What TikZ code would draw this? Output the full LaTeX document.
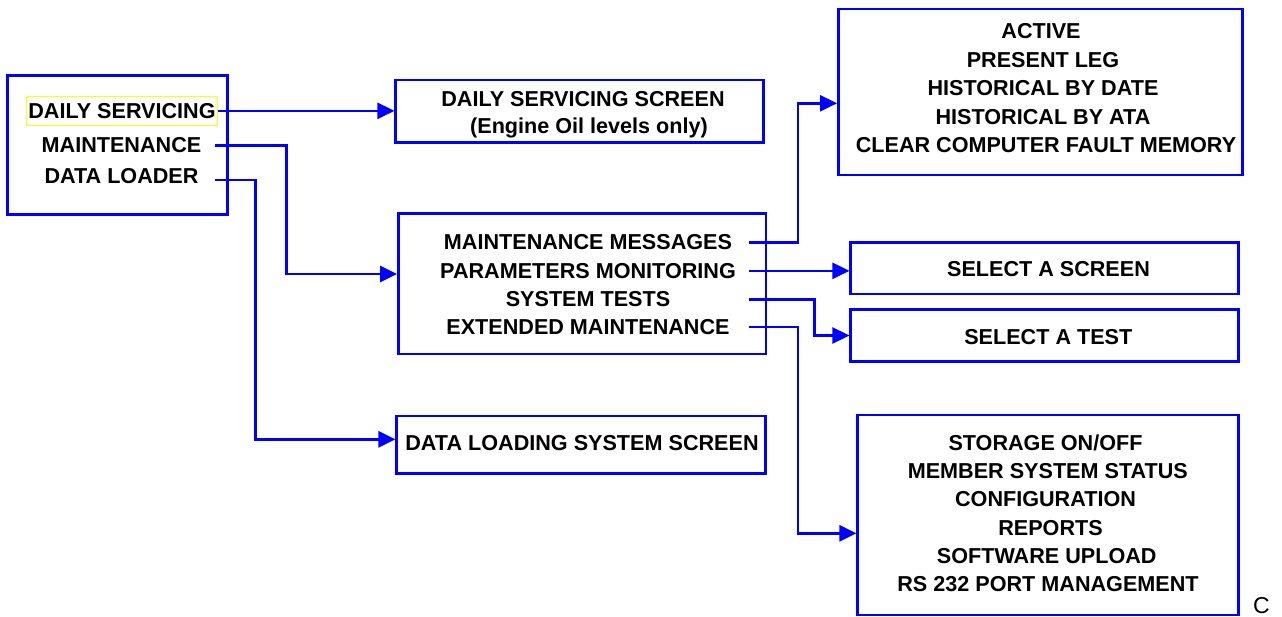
\documentclass[tikz,border=0pt]{standalone}
\usepackage{fontspec}
\setmainfont{Liberation Sans}
\usetikzlibrary{arrows.meta,calc}
\definecolor{lineblue}{RGB}{0,0,255}
\definecolor{hiyellow}{RGB}{255,255,0}

\begin{document}
\begin{tikzpicture}[x=1pt,y=-1pt,
  box/.style={draw=lineblue,line width=2.5pt,rectangle,inner sep=0pt},
  lbl/.style={inner sep=0pt,anchor=base,font=\fontsize{21.6}{28.4}\selectfont\bfseries},
  conn/.style={draw=lineblue,line width=2.5pt,-{Triangle[length=17pt,width=16pt]}}
]
\useasboundingbox (0,0) rectangle (1282,617);

% ---- boxes ----
\node[box,minimum width=220.4pt,minimum height=138.6pt] (menu) at (117.5,145) {};
\node[box,minimum width=367.6pt,minimum height=62.7pt]  (dss)  at (579.5,111.35) {};
\node[box,minimum width=404pt,minimum height=166pt]     (tr)   at (1040.3,92) {};
\node[box,minimum width=367.7pt,minimum height=140.7pt] (mid)  at (582.15,283.65) {};
\node[box,minimum width=387.6pt,minimum height=51.3pt]  (ss)   at (1044.5,268.35) {};
\node[box,minimum width=387.6pt,minimum height=52.4pt]  (stt)  at (1044.5,335.5) {};
\node[box,minimum width=368.8pt,minimum height=57.3pt]  (dls)  at (581.1,444.65) {};
\node[box,minimum width=380.6pt,minimum height=200pt]   (br)   at (1048,515) {};

% ---- main menu ----
\node[lbl,draw=hiyellow,line width=1pt,inner xsep=1.5pt,inner ysep=6.6pt] (ds) at (122,118.3) {DAILY SERVICING};
\node[lbl,minimum width=186pt] (mt) at (121.5,152.7) {MAINTENANCE};
\node[lbl,minimum width=186pt] (dl) at (121.5,183.3) {DATA LOADER};

% ---- daily servicing screen ----
\node[lbl] (dss1) at (583,106.7) {DAILY SERVICING SCREEN};
\node[lbl] (dss2) at (589,133.3) {(Engine Oil levels only)};

% ---- maintenance menu ----
\node[lbl,minimum width=322pt] (mm) at (588,250)   {MAINTENANCE MESSAGES};
\node[lbl,minimum width=322pt] (pm) at (588,278.3) {PARAMETERS MONITORING};
\node[lbl,minimum width=322pt] (st) at (588,306.7) {SYSTEM TESTS};
\node[lbl,minimum width=322pt] (em) at (588,334.3) {EXTENDED MAINTENANCE};

% ---- maintenance messages options ----
\node[lbl] (tr1) at (1041,39)    {ACTIVE};
\node[lbl] (tr2) at (1043,67.4)  {PRESENT LEG};
\node[lbl] (tr3) at (1043,95.8)  {HISTORICAL BY DATE};
\node[lbl] (tr4) at (1043,124.2) {HISTORICAL BY ATA};
\node[lbl] (tr5) at (1046,152.6) {CLEAR COMPUTER FAULT MEMORY};

% ---- parameters / tests ----
\node[lbl] (ss1)  at (1048.5,276.7) {SELECT A SCREEN};
\node[lbl] (stt1) at (1048.3,344.3) {SELECT A TEST};

% ---- data loading ----
\node[lbl] (dls1) at (582,450) {DATA LOADING SYSTEM SCREEN};

% ---- extended maintenance options ----
\node[lbl] (br1) at (1045.5,450)   {STORAGE ON/OFF};
\node[lbl] (br2) at (1047.8,478.3) {MEMBER SYSTEM STATUS};
\node[lbl] (br3) at (1045.5,506.7) {CONFIGURATION};
\node[lbl] (br4) at (1050.5,535)   {REPORTS};
\node[lbl] (br5) at (1046.7,563.3) {SOFTWARE UPLOAD};
\node[lbl] (br6) at (1048,591.7)   {RS 232 PORT MANAGEMENT};

\node[inner sep=0pt,anchor=base west,font=\fontsize{23}{27}\selectfont] (cmark) at (1253,613.5) {C};

% ---- connectors ----
\draw[conn] (ds.east) -- (ds.east -| dss.west);
\draw[conn] (mt.east) -- ++(72,0) |- ($(mid.west)+(0,-9.65)$);
\draw[conn] ($(dl.east)+(0,4.3)$) -- ++(41,0) |- ($(dls.west)+(0,-5.35)$);
\draw[conn] (mm.east) -- ++(49,0) |- ($(tr.west)+(0,11.3)$);
\draw[conn] (pm.east) -- (pm.east -| ss.west);
\draw[conn] (st.east) -- ++(65.3,0) |- (stt.west);
\draw[conn] (em.east) -- ++(49,0) |- ($(br.west)+(0,18.3)$);
\end{tikzpicture}
\end{document}
